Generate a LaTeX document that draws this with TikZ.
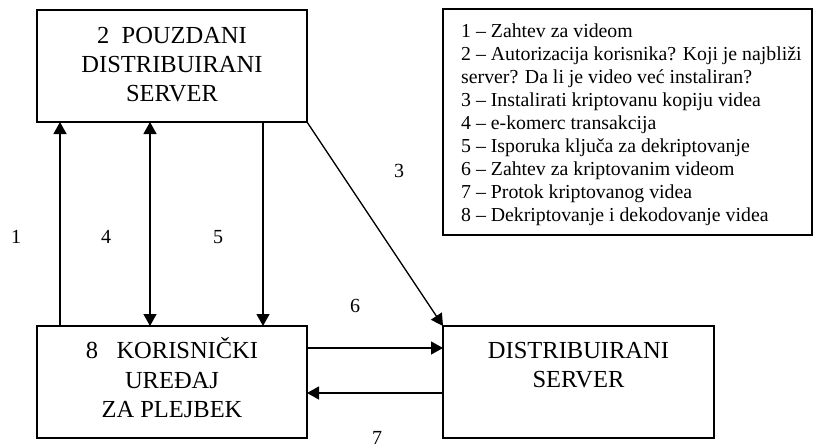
\documentclass[tikz,border=0pt]{standalone}
\usepackage{fontspec}
\setmainfont{Liberation Serif}
\usetikzlibrary{arrows.meta}
\begin{document}
\begin{tikzpicture}[x=1pt,y=-1pt,
  box/.style={draw, line width=1.4pt, inner sep=0pt, outer sep=0pt, anchor=north west},
  boxtext/.style={inner sep=0pt, anchor=base, font=\fontsize{24.5}{29}\selectfont},
  legtext/.style={inner sep=0pt, anchor=base west, font=\fontsize{19.8}{23}\selectfont},
  numlabel/.style={inner sep=0pt, anchor=base, font=\fontsize{20}{23}\selectfont},
  arr/.style={line width=1.3pt, -{Triangle[length=12pt,width=13pt]}},
  darr/.style={line width=1.3pt, {Triangle[length=12pt,width=13pt]}-{Triangle[length=12pt,width=13pt]}}]
\useasboundingbox (0,0) rectangle (814,447);

% boxes
\node[box, minimum width=270pt, minimum height=112pt] (ts) at (37,10) {};
\node[box, minimum width=270pt, minimum height=112pt] (ub) at (37,326) {};
\node[box, minimum width=271pt, minimum height=112pt] (ds) at (443,326) {};
\node[box, minimum width=369pt, minimum height=226pt] (leg) at (443,9) {};

% box texts
\node[boxtext] (ts1) at (172,43) {2\ \ POUZDANI};
\node[boxtext] (ts2) at (172,72) {DISTRIBUIRANI};
\node[boxtext] (ts3) at (172,101) {SERVER};
\node[boxtext] (ub1) at (172,358) {8\ \ \ KORISNIČKI};
\node[boxtext] (ub2) at (172,388) {UREĐAJ};
\node[boxtext] (ub3) at (172,417) {ZA PLEJBEK};
\node[boxtext] (ds1) at (578.5,358) {DISTRIBUIRANI};
\node[boxtext] (ds2) at (578.5,387) {SERVER};

% legend
\foreach \t [count=\i] in {%
  {1 – Zahtev za videom},
  {2 – Autorizacija korisnika? Koji je najbliži},
  {server? Da li je video već instaliran?},
  {3 – Instalirati kriptovanu kopiju videa},
  {4 – e-komerc transakcija},
  {5 – Isporuka ključa za dekriptovanje},
  {6 – Zahtev za kriptovanim videom},
  {7 – Protok kriptovanog videa},
  {8 – Dekriptovanje i dekodovanje videa}}
  \node[legtext] (leg\i) at ({461},{37+(\i-1)*23.1}) {\t};

% connectors
\draw[arr] ([xshift=23pt]ub.north west) -- ([xshift=23pt]ts.south west);
\draw[darr] ([xshift=113pt]ts.south west) -- ([xshift=113pt]ub.north west);
\draw[arr] ([xshift=226pt]ts.south west) -- ([xshift=226pt]ub.north west);
\draw[arr] (ts.south east) -- (ds.north west);
\draw[arr] ([yshift=-22pt]ub.north east) -- ([yshift=-22pt]ds.north west);
\draw[arr] ([yshift=-67pt]ds.north west) -- ([yshift=-67pt]ub.north east);

% labels
\node[numlabel] (l1) at (16,243) {1};
\node[numlabel] (l4) at (106,243) {4};
\node[numlabel] (l5) at (218,243) {5};
\node[numlabel] (l3) at (399,177) {3};
\node[numlabel] (l6) at (355,312) {6};
\node[numlabel] (l7) at (377,444) {7};
\end{tikzpicture}
\end{document}
